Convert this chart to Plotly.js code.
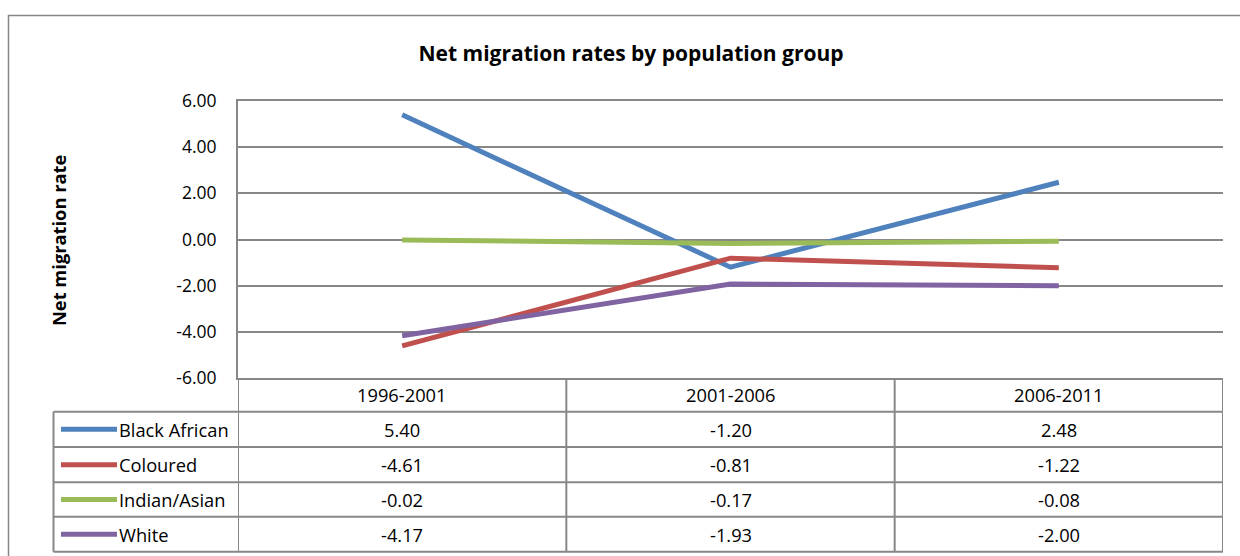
<!DOCTYPE html>
<html>
<head>
<meta charset="utf-8">
<script src="https://cdn.plot.ly/plotly-3.0.1.min.js"></script>
<style>
  html, body { margin: 0; padding: 0; background: #ffffff; }
  #chart { width: 1240px; height: 556px; }
</style>
</head>
<body>
<div id="chart"></div>
<script>
// Periods (columns of the data table)
const periods = ['1996-2001', '2001-2006', '2006-2011'];

// Population groups and their net migration rates
const groups = ['Black African', 'Coloured', 'Indian/Asian', 'White'];
const blackAfrican = [5.40, -1.20, 2.48];
const coloured = [-4.61, -0.81, -1.22];
const indianAsian = [-0.02, -0.17, -0.08];
const white = [-4.17, -1.93, -2.00];

const yTicks = [-6, -4, -2, 0, 2, 4, 6];

const seriesValues = [blackAfrican, coloured, indianAsian, white];
const seriesColors = ['#4F81BD', '#C0504D', '#9BBB59', '#8064A2'];

// Page geometry (pixels)
const W = 1240, H = 556;
const M = { l: 238, r: 17, t: 101, b: 178 };
const plotW = W - M.l - M.r;
const plotH = H - M.t - M.b;
const px2x = px => (px - M.l) / plotW;           // pixel -> paper x
const py2y = py => (H - M.b - py) / plotH;       // pixel -> paper y

const FONT = '"Open Sans", "Noto Sans", sans-serif';
const TXT = 18.3;
const GRID = '#878787';

// Data table rows: header row then one row per group
const tableTop = H - M.b;                 // bottom of plot area
const rowEdges = [tableTop, 411.7, 447.0, 482.3, 516.8, 551.7];
const legendLeft = 53.5;

const traces = seriesValues.map((vals, i) => ({
  type: 'scatter',
  mode: 'lines',
  name: groups[i],
  x: periods,
  y: vals,
  line: { color: seriesColors[i], width: 5 },
  hoverinfo: 'skip',
  showlegend: false
}));

const shapes = [];
const annotations = [];

// outer chart border
shapes.push({
  type: 'rect', xref: 'paper', yref: 'paper',
  x0: px2x(8.5), x1: px2x(1260), y0: py2y(600), y1: py2y(15.5),
  line: { color: '#868686', width: 1.5 }, layer: 'below'
});

// horizontal table lines
for (let r = 1; r < rowEdges.length; r++) {
  shapes.push({
    type: 'line', xref: 'paper', yref: 'paper',
    x0: px2x(legendLeft), x1: 1, y0: py2y(rowEdges[r]), y1: py2y(rowEdges[r]),
    line: { color: GRID, width: 2 }
  });
}
// vertical table lines on the column boundaries
[-0.5, 0.5, 1.5, 2.5].forEach(xv => {
  shapes.push({
    type: 'line', xref: 'x', yref: 'paper',
    x0: xv, x1: xv, y0: py2y(rowEdges[0]), y1: py2y(rowEdges[rowEdges.length - 1]),
    line: { color: GRID, width: 2 }
  });
});
// left edge of the legend column
shapes.push({
  type: 'line', xref: 'paper', yref: 'paper',
  x0: px2x(legendLeft), x1: px2x(legendLeft),
  y0: py2y(rowEdges[1]), y1: py2y(rowEdges[rowEdges.length - 1]),
  line: { color: GRID, width: 2 }
});

// header row: period labels
periods.forEach((p, c) => {
  annotations.push({
    xref: 'x', yref: 'paper', x: c,
    y: py2y((rowEdges[0] + rowEdges[1]) / 2),
    text: p, showarrow: false, xanchor: 'center', yanchor: 'middle',
    font: { family: FONT, size: TXT, color: '#000' }
  });
});

// group rows: legend key, name and values
groups.forEach((g, i) => {
  const yc = py2y((rowEdges[i + 1] + rowEdges[i + 2]) / 2);
  shapes.push({
    type: 'line', xref: 'paper', yref: 'paper',
    x0: px2x(61), x1: px2x(117), y0: yc, y1: yc,
    line: { color: seriesColors[i], width: 5 }
  });
  annotations.push({
    xref: 'paper', yref: 'paper', x: px2x(117), y: yc,
    text: g, showarrow: false, xanchor: 'left', yanchor: 'middle',
    font: { family: FONT, size: TXT, color: '#000' }
  });
  seriesValues[i].forEach((v, c) => {
    annotations.push({
      xref: 'x', yref: 'paper', x: c, y: yc,
      text: v.toFixed(2), showarrow: false, xanchor: 'center', yanchor: 'middle',
      font: { family: FONT, size: TXT, color: '#000' }
    });
  });
});

// y-axis title
annotations.push({
  xref: 'paper', yref: 'paper', x: px2x(58), y: py2y(241),
  text: '<b>Net migration rate</b>', textangle: -90, showarrow: false,
  xanchor: 'center', yanchor: 'middle',
  font: { family: FONT, size: TXT, color: '#000' }
});

const layout = {
  width: W, height: H,
  margin: M,
  paper_bgcolor: '#ffffff', plot_bgcolor: '#ffffff',
  title: {
    text: '<b>Net migration rates by population group</b>',
    x: 631 / W, xref: 'container', xanchor: 'center',
    y: 1 - 54 / H, yref: 'container', yanchor: 'middle',
    font: { family: FONT, size: 21, color: '#000' }
  },
  xaxis: {
    type: 'category', range: [-0.5, 2.5],
    showticklabels: false, showgrid: false, zeroline: false,
    showline: true, mirror: true, linecolor: GRID, linewidth: 2,
    fixedrange: true
  },
  yaxis: {
    range: [-6, 6], tickvals: yTicks, ticktext: yTicks.map(v => v.toFixed(2)),
    showgrid: true, gridcolor: GRID, gridwidth: 2,
    zeroline: false, showline: true, linecolor: GRID, linewidth: 2,
    ticks: '', ticklabelstandoff: 16,
    tickfont: { family: FONT, size: 17.5, color: '#000' },
    fixedrange: true
  },
  shapes: shapes,
  annotations: annotations,
  showlegend: false
};

Plotly.newPlot('chart', traces, layout, { displayModeBar: false, staticPlot: true });
</script>
</body>
</html>
